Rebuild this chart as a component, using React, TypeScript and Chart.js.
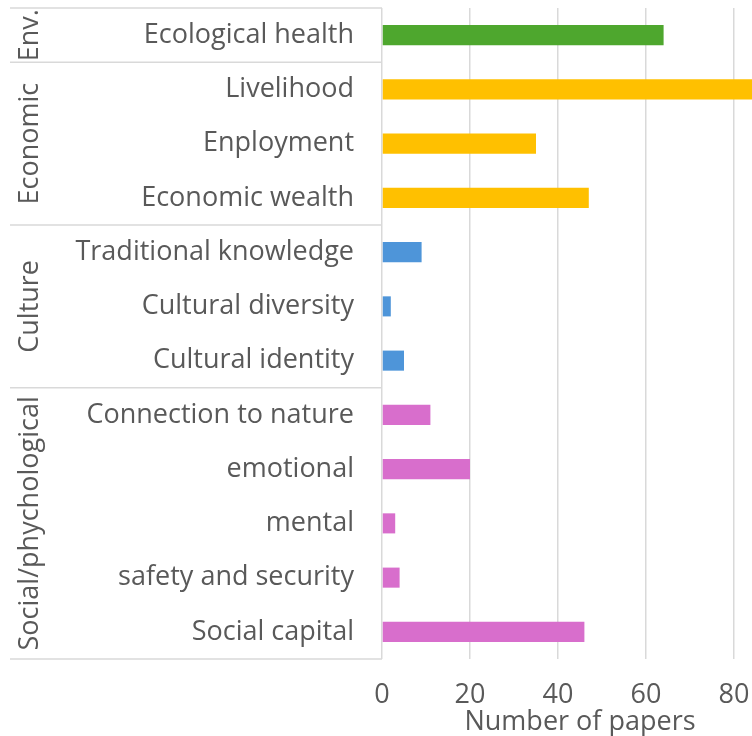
import React, { useEffect, useRef } from "react";
import { Chart, registerables } from "chart.js";

Chart.register(...registerables);

const categories = [
  "Ecological health",
  "Livelihood",
  "Enployment",
  "Economic wealth",
  "Traditional knowledge",
  "Cultural diversity",
  "Cultural identity",
  "Connection to nature",
  "emotional",
  "mental",
  "safety and security",
  "Social capital",
];
const values = [64, 86, 35, 47, 9, 2, 5, 11, 20, 3, 4, 46];
const groupNames = ["Env.", "Economic", "Culture", "Social/phychological"];
const groupStart = [0, 1, 4, 7];
const groupEnd = [0, 3, 6, 11];
const groupColors = ["#4EA72E", "#FFC000", "#4E95D9", "#D86ECC"];
const xTicks = [0, 20, 40, 60, 80];

const FONT = "'Open Sans', sans-serif";
const FS = 27;
const TEXT = "#595959";
const LINE = "#D9D9D9";

const barColors = categories.map((_, i) => {
  const g = groupStart.findIndex((s, k) => i >= s && i <= groupEnd[k]);
  return groupColors[g];
});

const groupPlugin = {
  id: "groupBoxes",
  afterDraw(chart: any) {
    const { ctx, chartArea } = chart;
    const y = chart.scales.y;
    const x0 = 10;
    const x1 = chartArea.left;
    ctx.save();
    ctx.strokeStyle = LINE;
    ctx.lineWidth = 1.5;
    ctx.beginPath();
    const bounds: number[] = [];
    groupStart.forEach((s) => bounds.push(y.getPixelForValue(s - 0.5)));
    bounds.push(y.getPixelForValue(groupEnd[groupEnd.length - 1] + 0.5));
    bounds.forEach((b) => {
      ctx.moveTo(x0, b);
      ctx.lineTo(x1, b);
    });
    ctx.stroke();
    ctx.fillStyle = TEXT;
    ctx.font = `${FS}px ${FONT}`;
    ctx.textAlign = "center";
    ctx.textBaseline = "middle";
    groupNames.forEach((name, k) => {
      const top = y.getPixelForValue(groupStart[k] - 0.5);
      const bot = y.getPixelForValue(groupEnd[k] + 0.5);
      ctx.save();
      ctx.translate(30, (top + bot) / 2);
      ctx.rotate(-Math.PI / 2);
      ctx.fillText(name, 0, 0);
      ctx.restore();
    });
    ctx.restore();
  },
};

export default function App() {
  const ref = useRef<HTMLCanvasElement>(null);
  useEffect(() => {
    if (!ref.current) return;
    const chart = new Chart(ref.current, {
      type: "bar",
      data: {
        labels: categories,
        datasets: [
          {
            data: values,
            backgroundColor: barColors,
            barPercentage: 0.37,
            categoryPercentage: 1,
          },
        ],
      },
      options: {
        indexAxis: "y",
        animation: false,
        responsive: false,
        layout: { padding: { top: 8, left: 0, right: 0, bottom: 0 } },
        plugins: { legend: { display: false }, tooltip: { enabled: false } },
        scales: {
          x: {
            min: 0,
            max: 90,
            afterBuildTicks: (s: any) => {
              s.ticks = xTicks.map((v) => ({ value: v }));
            },
            afterFit: (s: any) => {
              s.height = 77;
              s.paddingLeft = 0;
              s.paddingRight = 0;
            },
            grid: { color: LINE, lineWidth: 1.5, drawTicks: false },
            border: { display: false },
            ticks: {
              color: TEXT,
              font: { family: FONT, size: FS },
              padding: 20,
            },
            title: {
              display: true,
              text: "Number of papers",
              color: TEXT,
              font: { family: FONT, size: FS, lineHeight: 1 },
              padding: { top: 0, bottom: 0.5 },
            },
          },
          y: {
            afterFit: (s: any) => {
              s.width = 382;
              s.paddingTop = 0;
              s.paddingBottom = 0;
            },
            grid: { display: false, drawTicks: false },
            border: { display: false },
            ticks: {
              color: TEXT,
              font: { family: FONT, size: FS },
              padding: 28,
            },
          },
        },
      },
      plugins: [groupPlugin],
    });
    return () => chart.destroy();
  }, []);
  return (
    <div
      style={{
        position: "fixed",
        left: 0,
        top: 0,
        width: 752,
        height: 736,
        overflow: "hidden",
        background: "#fff",
      }}
    >
      <canvas ref={ref} width={778} height={736} style={{ display: "block" }} />
    </div>
  );
}
